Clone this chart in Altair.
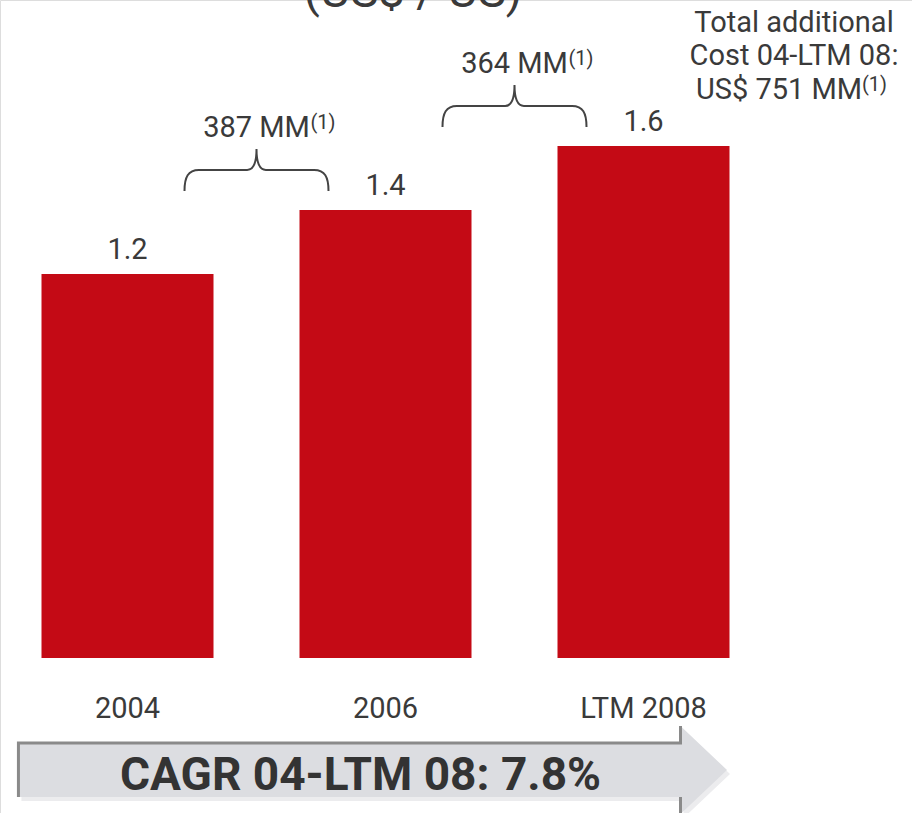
import altair as alt
import pandas as pd

# ---- data -------------------------------------------------------------
categories = ["2004", "2006", "LTM 2008"]
values = [1.2, 1.4, 1.6]
step_costs = ["387 MM", "364 MM"]
note_lines = ["Total additional", "Cost 04-LTM 08:", "US$ 751 MM"]
footnote_mark = "(1)"
cagr_label = "CAGR 04-LTM 08: 7.8%"
unit_title = "(US$ / US)"

# ---- style ------------------------------------------------------------
FONT = "Roboto"
TEXT = "#3a3a3a"
RED = "#c40a15"
W, H = 912, 813

bars = pd.DataFrame({"pos": list(range(len(categories))), "cat": categories, "value": values})
steps = pd.DataFrame({
    "mid": [i + 0.5 for i in range(len(step_costs))],
    "top": values[1:],
    "label": step_costs,
})
single = pd.DataFrame({"label": [cagr_label]})

xs = alt.Scale(domain=[-0.4942, 3.0407], nice=False, zero=False)
ys = alt.Scale(domain=[-0.48438, 2.05625], nice=False, zero=False)


def X(field):
    return alt.X(field, type="quantitative", scale=xs, axis=None)


def Y(field):
    return alt.Y(field, type="quantitative", scale=ys, axis=None)


# curly brace drawn as a custom symbol, unit square [-1, 1]
BRACE = ("M -1 0.29 C -1 0.1 -0.95 0 -0.8 0 L -0.13 0 C -0.04 0 0 -0.1 0 -0.29 "
         "C 0 -0.1 0.04 0 0.13 0 L 0.8 0 C 0.95 0 1 0.1 1 0.29")
# growth arrow (body + head) and its darker top/left edge
ARROW = ("M -1.034 -0.076 L 0.831 -0.076 L 0.831 -0.124 L 0.962 0 "
         "L 0.831 0.124 L 0.831 0.076 L -1.034 0.076 Z")
ARROW_EDGE = ("M 0.831 -0.124 L 0.831 -0.076 L -1.034 -0.076 L -1.034 0.076 "
              "M 0.831 0.076 L 0.831 0.124")
ARROW_SIZE = 710 ** 2
BRACE_SIZE = 144 ** 2

bar_layer = (
    alt.Chart(bars)
    .transform_calculate(x0="datum.pos - 1/3", x1="datum.pos + 1/3", base="0")
    .mark_rect(color=RED)
    .encode(x=X("x0"), x2="x1:Q", y=Y("value"), y2="base:Q")
)

value_labels = (
    alt.Chart(bars)
    .mark_text(font=FONT, fontSize=29, color=TEXT, baseline="alphabetic", dy=-15)
    .encode(x=X("pos"), y=Y("value"), text=alt.Text("value:Q", format=".1f"))
)

cat_labels = (
    alt.Chart(bars)
    .mark_text(font=FONT, fontSize=29, color=TEXT, baseline="alphabetic")
    .encode(x=X("pos"), y=alt.value(718), text="cat:N")
)

braces = (
    alt.Chart(steps)
    .mark_point(shape=BRACE, size=BRACE_SIZE, filled=False, stroke="#444444",
                strokeWidth=2, opacity=1, yOffset=-40)
    .encode(x=X("mid"), y=Y("top"))
)

brace_labels = (
    alt.Chart(steps)
    .mark_text(font=FONT, fontSize=29, color=TEXT, baseline="alphabetic", dy=-73)
    .encode(x=X("mid"), y=Y("top"), text="label:N")
)

brace_marks = (
    alt.Chart(steps)
    .mark_text(font=FONT, fontSize=20, color=TEXT, baseline="alphabetic",
               align="left", dx=54, dy=-81, text=footnote_mark)
    .encode(x=X("mid"), y=Y("top"))
)

title_layer = (
    alt.Chart(single)
    .mark_text(font=FONT, fontSize=47, color=TEXT, baseline="alphabetic",
               text=unit_title)
    .encode(x=alt.value(413), y=alt.value(7))
)

note_layers = []
note_pos = [(794, 32), (794, 65), (779, 99)]
for line, (nx, ny) in zip(note_lines, note_pos):
    note_layers.append(
        alt.Chart(single)
        .mark_text(font=FONT, fontSize=29, color=TEXT, baseline="alphabetic", text=line)
        .encode(x=alt.value(nx), y=alt.value(ny))
    )
note_layers.append(
    alt.Chart(single)
    .mark_text(font=FONT, fontSize=20, color=TEXT, baseline="alphabetic",
               align="left", text=footnote_mark)
    .encode(x=alt.value(862), y=alt.value(91))
)

arrow_shadow = (
    alt.Chart(single)
    .mark_point(shape=ARROW, size=ARROW_SIZE, filled=True, fill="#ececee",
                strokeWidth=0, opacity=1, xOffset=3, yOffset=4)
    .encode(x=alt.X(datum=1, type="quantitative", scale=xs, axis=None), y=alt.value(770))
)
arrow_body = (
    alt.Chart(single)
    .mark_point(shape=ARROW, size=ARROW_SIZE, filled=True, fill="#dcdde1",
                strokeWidth=0, opacity=1)
    .encode(x=alt.X(datum=1, type="quantitative", scale=xs, axis=None), y=alt.value(770))
)
arrow_edge = (
    alt.Chart(single)
    .mark_point(shape=ARROW_EDGE, size=ARROW_SIZE, filled=False, stroke="#8a8a8a",
                strokeWidth=3, opacity=1)
    .encode(x=alt.X(datum=1, type="quantitative", scale=xs, axis=None), y=alt.value(770))
)
cagr_text = (
    alt.Chart(single)
    .mark_text(font=FONT, fontSize=46, fontWeight="bold", color="#333333",
               baseline="alphabetic", dx=-25)
    .encode(x=alt.X(datum=1, type="quantitative", scale=xs, axis=None),
            y=alt.value(790), text="label:N")
)

chart = (
    alt.layer(
        arrow_shadow, arrow_body, arrow_edge, cagr_text,
        bar_layer, value_labels, cat_labels, braces, brace_labels, brace_marks,
        title_layer, *note_layers,
    )
    .properties(width=W, height=H, autosize=alt.AutoSizeParams(type="none"), padding=0)
    .configure_view(stroke=None)
    .configure(background="white")
)

chart.save("out.html", embed_options={"renderer": "svg", "actions": False})
